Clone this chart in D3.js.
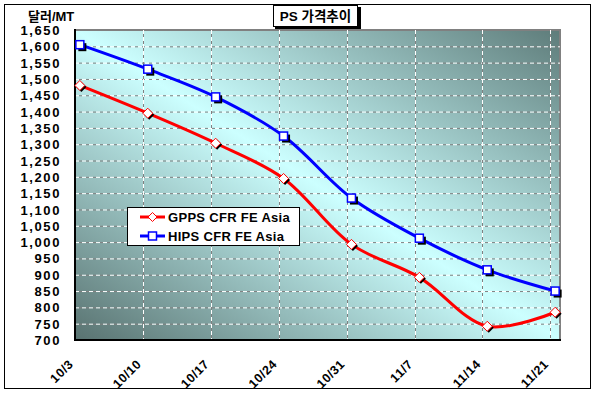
<!DOCTYPE html>
<html><head><meta charset="utf-8">
<script src="https://cdn.jsdelivr.net/npm/d3@7"></script>
<style>
body{margin:0;background:#fff;}
svg text{font-family:"Liberation Sans",Arial,"Noto Sans CJK KR",sans-serif;font-weight:bold;fill:#000;}
</style></head>
<body><svg id="c" width="599" height="398"></svg>
<script>
const dates = ["2008-10-03","2008-10-10","2008-10-17","2008-10-24","2008-10-31","2008-11-07","2008-11-14","2008-11-21"];
const tickLabels = ["10/3","10/10","10/17","10/24","10/31","11/7","11/14","11/21"];
const gpps = [1480,1395,1303,1195,993,892,742,785];
const hips = [1605,1530,1445,1325,1135,1012,915,850];
const seriesNames = ["GPPS CFR FE Asia","HIPS CFR FE Asia"];
const yTicks = d3.range(700,1651,50);
const title = "PS 가격추이";
const yTitle = "달러/MT";

const svg = d3.select("#c");
const parse = d3.timeParse("%Y-%m-%d");
const dts = dates.map(parse);
const L=75,R=560,T=30,B=340;
const x = d3.scaleTime().domain([dts[0], d3.timeDay.offset(dts[dts.length-1],1)]).range([L,R]);
const y = d3.scaleLinear().domain([700,1650]).range([B,T]);
const mid = d => d3.timeHour.offset(d,12);

// outer border
svg.append("rect").attr("x",4.5).attr("y",4.5).attr("width",586).attr("height",384)
  .attr("fill","#fff").attr("stroke","#000").attr("stroke-width",1);

// gradient
const defs = svg.append("defs");
const g = defs.append("linearGradient").attr("id","bg").attr("x1",0).attr("y1",1).attr("x2",1).attr("y2",0);
g.append("stop").attr("offset",0).attr("stop-color","#587270");
g.append("stop").attr("offset",0.5).attr("stop-color","#ccffff");
g.append("stop").attr("offset",1).attr("stop-color","#5e7c7a");

svg.append("rect").attr("x",L).attr("y",T).attr("width",R-L).attr("height",B-T)
  .attr("fill","url(#bg)").attr("stroke","#808080").attr("stroke-width",2);

// gridlines
const grid = svg.append("g");
yTicks.filter(v=>v>700 && v<1650).forEach(v=>{
  grid.append("line").attr("x1",L).attr("x2",R).attr("y1",y(v)+0.5).attr("y2",y(v)+0.5)
    .attr("stroke","#fff").attr("stroke-dasharray","4 3");
  grid.append("line").attr("x1",L).attr("x2",R).attr("y1",y(v)+0.5).attr("y2",y(v)+0.5)
    .attr("stroke","#808080").attr("stroke-dasharray","3 4").attr("stroke-dashoffset",-4);
});
dts.slice(1).forEach(d=>{
  const xx = Math.round(x(d))+0.5;
  grid.append("line").attr("x1",xx).attr("x2",xx).attr("y1",T).attr("y2",B)
    .attr("stroke","#fff").attr("stroke-dasharray","4 3");
  grid.append("line").attr("x1",xx).attr("x2",xx).attr("y1",T).attr("y2",B)
    .attr("stroke","#808080").attr("stroke-dasharray","3 4").attr("stroke-dashoffset",-4);
});

// axes lines
svg.append("line").attr("x1",L).attr("x2",L).attr("y1",T-1).attr("y2",B+1).attr("stroke","#000").attr("stroke-width",2);
svg.append("line").attr("x1",L-1).attr("x2",R+1).attr("y1",B).attr("y2",B).attr("stroke","#000").attr("stroke-width",2);

// y labels
const yAxis = d3.axisLeft(y).tickValues(yTicks).tickSize(0).tickPadding(0).tickFormat(d3.format(","));
const ya = svg.append("g").attr("transform",`translate(61,0)`).call(yAxis);
ya.select(".domain").remove();
ya.selectAll("text").attr("font-size",13).attr("letter-spacing","1.6px").attr("dy","0.35em")
  .style("font-family","'Liberation Sans',Arial,sans-serif").style("font-weight","bold");

// x labels
const xa = svg.append("g");
dts.forEach((d,i)=>{
  const xx = x(d);
  xa.append("text").attr("transform",`translate(${xx-1},${365}) rotate(-45)`)
    .attr("text-anchor","end").attr("font-size",12.5).attr("letter-spacing","0.5px").text(tickLabels[i]);
});

// y title
svg.append("text").attr("x",28).attr("y",21).attr("font-size",13).text(yTitle);

// lines
const line = d3.line().x(d=>x(mid(d[0]))).y(d=>y(d[1])).curve(d3.curveCatmullRom);
const sData = [gpps,hips].map(arr=>arr.map((v,i)=>[dts[i],v]));
const colors = ["#ff0000","#0000ff"];
sData.forEach((s,k)=>{
  svg.append("path").attr("d",line(s)).attr("fill","none").attr("stroke",colors[k]).attr("stroke-width",3);
});
function marker(gg,cx,cy,k){
  if(k===0){
    const p = (dx,dy)=>`M${cx+dx},${cy-5+dy}L${cx+5+dx},${cy+dy}L${cx+dx},${cy+5+dy}L${cx-5+dx},${cy+dy}Z`;
    gg.append("path").attr("d",p(1.5,1.5)).attr("fill","#000");
    gg.append("path").attr("d",p(0,0)).attr("fill","#fff").attr("stroke",colors[k]).attr("stroke-width",1);
  } else {
    gg.append("rect").attr("x",cx-3.5+2).attr("y",cy-3.5+2).attr("width",8).attr("height",8).attr("fill","#000");
    gg.append("rect").attr("x",cx-4).attr("y",cy-4).attr("width",8).attr("height",8)
      .attr("fill","#fff").attr("stroke",colors[k]).attr("stroke-width",1.5);
  }
}
sData.forEach((s,k)=>{
  const gg = svg.append("g");
  s.forEach(d=>marker(gg,x(mid(d[0])),y(d[1]),k));
});

// legend
const lg = svg.append("g");
lg.append("rect").attr("x",127.5).attr("y",207.5).attr("width",172).attr("height",38).attr("fill","#fff").attr("stroke","#000");
seriesNames.forEach((n,k)=>{
  const cy = 217+k*19;
  lg.append("line").attr("x1",140).attr("x2",165).attr("y1",cy).attr("y2",cy).attr("stroke",colors[k]).attr("stroke-width",3);
  if(k===0){
    lg.append("path").attr("d",`M152.5,${cy-4.5}L157,${cy}L152.5,${cy+4.5}L148,${cy}Z`).attr("fill","#fff").attr("stroke",colors[k]);
  } else {
    lg.append("rect").attr("x",148.5).attr("y",cy-4).attr("width",8).attr("height",8).attr("fill","#fff").attr("stroke",colors[k]).attr("stroke-width",1.5);
  }
  lg.append("text").attr("x",168).attr("y",cy+4.5).attr("font-size",13).attr("letter-spacing","0.3px").text(n);
});

// title box
svg.append("rect").attr("x",275).attr("y",7).attr("width",86).attr("height",22).attr("fill","#000");
svg.append("rect").attr("x",273.5).attr("y",5.5).attr("width",84).attr("height",21).attr("fill","#fff").attr("stroke","#000");
svg.append("text").attr("x",315.5).attr("y",21).attr("text-anchor","middle").attr("font-size",13.5).text(title);
</script></body></html>
